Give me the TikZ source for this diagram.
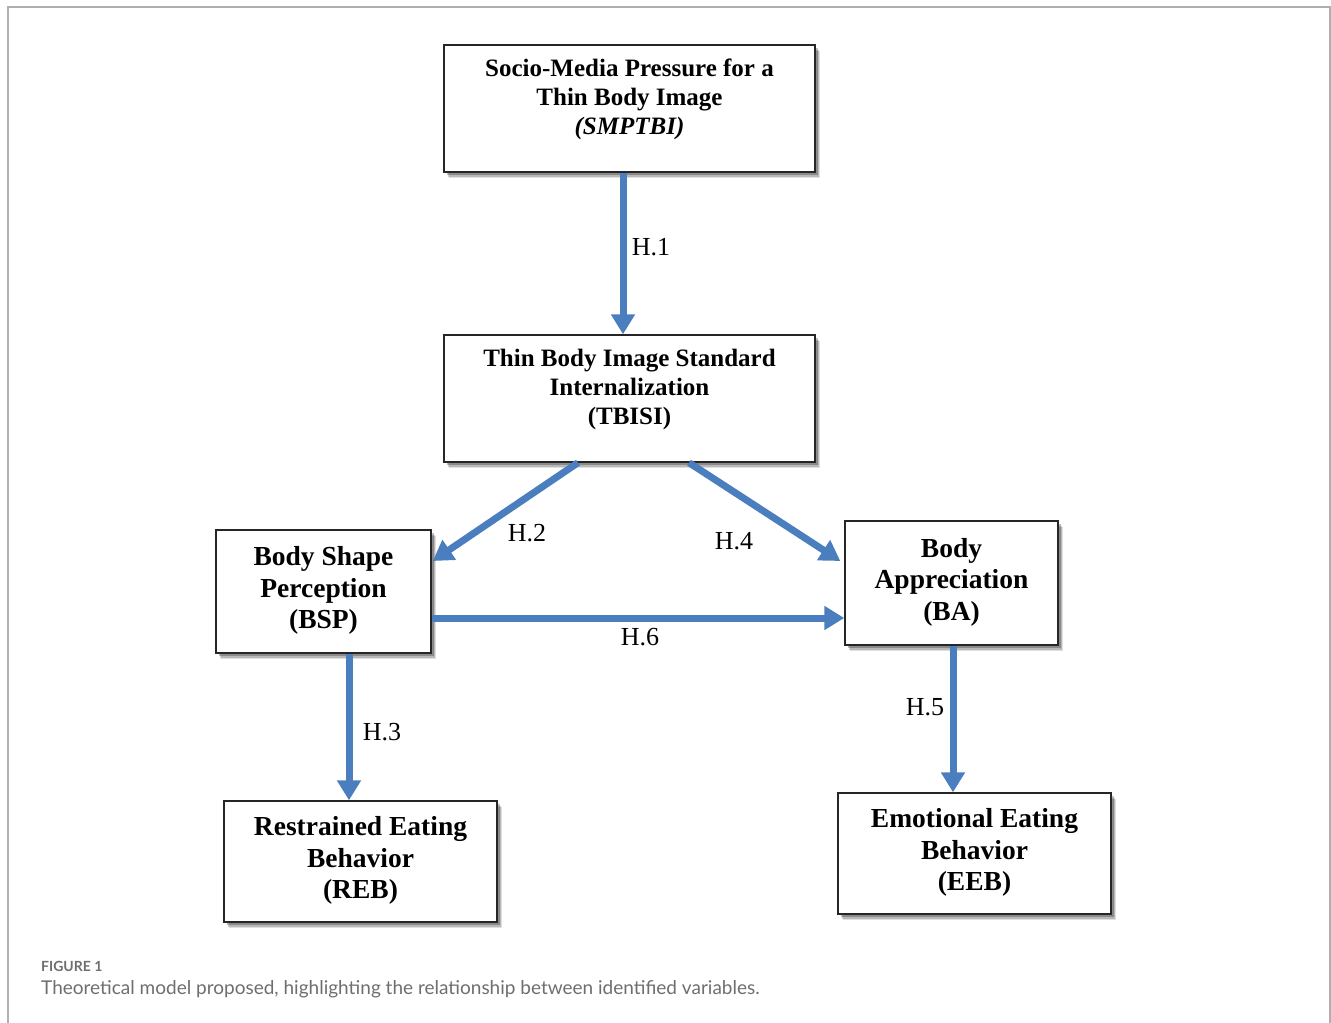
\documentclass[tikz,border=0pt]{standalone}
\usepackage{fontspec}
\setmainfont{Liberation Serif}
\newfontfamily\capfont{Lato}
\usetikzlibrary{arrows.meta,shadows}
\definecolor{arrblue}{RGB}{74,126,190}
\definecolor{framegray}{RGB}{175,175,175}
\definecolor{capgray}{RGB}{110,110,110}
\begin{document}
\begin{tikzpicture}[x=1pt,y=-1pt,
  box/.style={draw=black!85,line width=1.4pt,fill=white,align=center,inner sep=0pt,
    font=\bfseries,
    drop shadow={shadow xshift=5pt,shadow yshift=-6pt,opacity=0.12,fill=black},
    drop shadow={shadow xshift=4pt,shadow yshift=-4.5pt,opacity=0.18,fill=black},
    drop shadow={shadow xshift=2.5pt,shadow yshift=-3pt,opacity=0.25,fill=black}},
  topbox/.style={box,minimum width=371pt,minimum height=127pt,
    font=\fontsize{25}{29}\selectfont\bfseries},
  lowbox/.style={box,font=\fontsize{27.5}{31.5}\selectfont\bfseries},
  arr/.style={draw=arrblue,line width=7pt,-{Triangle[width=23pt,length=20pt]}},
  hlab/.style={font=\fontsize{26}{28}\selectfont,inner sep=0pt}
]
\useasboundingbox (0,0) rectangle (1331,1023);
\draw[framegray,line width=1.5pt] (8,1030) -- (8,7) -- (1330,7) -- (1330,1030);

\node[topbox] (smp) at (629.5,108.5) {Socio-Media Pressure for a\\Thin Body Image\\\textit{(SMPTBI)}\\[-6pt]\mbox{}};
\node[topbox] (tbi) at (629.5,398.5) {Thin Body Image Standard\\Internalization\\(TBISI)\\[-6pt]\mbox{}};
\node[lowbox,minimum width=215pt,minimum height=123pt] (bsp) at (323.5,591.5) {Body Shape\\Perception\\(BSP)\\[-24pt]\mbox{}};
\node[lowbox,minimum width=213pt,minimum height=124pt] (ba) at (951.5,583) {Body\\Appreciation\\(BA)\\[-24pt]\mbox{}};
\node[lowbox,minimum width=273pt,minimum height=121pt] (reb) at (360.5,861.5) {Restrained Eating\\Behavior\\(REB)\\[-24pt]\mbox{}};
\node[lowbox,minimum width=273pt,minimum height=121pt] (eeb) at (974.5,853.5) {Emotional Eating\\Behavior\\(EEB)\\[-24pt]\mbox{}};

\draw[arr] ([xshift=-6.5pt]smp.south) -- ([xshift=-6.5pt]tbi.north);
\draw[arr] ([xshift=-51.5pt]tbi.south) -- ([yshift=30.5pt,xshift=1pt]bsp.east);
\draw[arr] ([xshift=59.5pt]tbi.south) -- ([yshift=22pt,xshift=-4pt]ba.west);
\draw[arr] ([yshift=-26.5pt]bsp.east) -- ([yshift=-26.5pt]bsp.east -| ba.west);
\draw[arr] ([xshift=25.5pt]bsp.south) -- ([xshift=25.5pt]bsp.south |- reb.north);
\draw[arr] ([xshift=1.5pt]ba.south) -- ([xshift=1.5pt]ba.south |- eeb.north);

\node[hlab] (h1) at (651,247) {H.1};
\node[hlab] (h2) at (527,533) {H.2};
\node[hlab] (h4) at (734,541) {H.4};
\node[hlab] (h6) at (640,637) {H.6};
\node[hlab] (h3) at (382,732) {H.3};
\node[hlab] (h5) at (925,707) {H.5};

\node[anchor=west,inner sep=0pt,text=capgray,font=\capfont\bfseries\fontsize{14}{15}\selectfont] (fig) at (41,966) {FIGURE 1};
\node[anchor=west,inner sep=0pt,text=capgray,font=\capfont\fontsize{19}{21}\selectfont] (cap) at (41,989) {Theoretical model proposed, highlighting the relationship between identified variables.};
\end{tikzpicture}
\end{document}
